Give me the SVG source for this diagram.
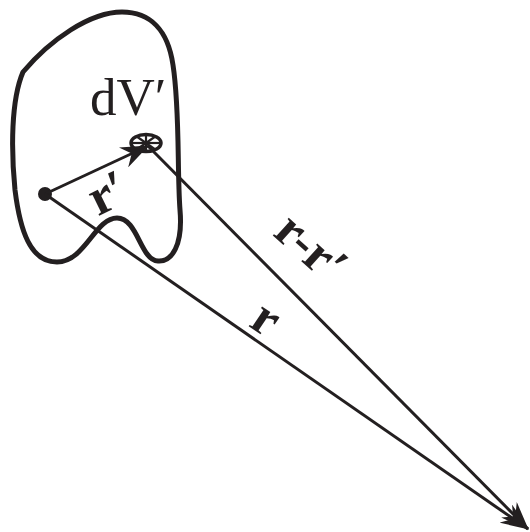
<svg xmlns="http://www.w3.org/2000/svg" width="530" height="532" viewBox="0 0 530 532">
<style>
.ln{stroke:#231f20;stroke-width:3;fill:none}
.lbl{font-family:"Liberation Serif","Times New Roman",serif;fill:#231f20}
.b{font-weight:bold}
</style>
<defs>
<marker id="ah" viewBox="0 0 28 22" refX="27" refY="11" markerWidth="28" markerHeight="22" markerUnits="userSpaceOnUse" orient="auto">
<path d="M0,0 L28,11 L0,22 L9,11 Z" fill="#231f20"/>
</marker>
</defs>
<rect width="530" height="532" fill="#fff"/>
<g id="region">
<path d="M23,72 C50,40 90,12 122,12 C150,12 168,30 173,65 C180,110 177,170 180,210 C183,245 172,262 158,261 C140,260 138,218 117,218 C95,218 85,262 57,262 C30,262 20,230 15,190 C11,150 11,100 23,72 Z" fill="none" stroke="#231f20" stroke-width="5" stroke-linejoin="round"/>
</g>
<g id="origin">
<circle cx="45" cy="194" r="7" fill="#231f20"/>
</g>
<g id="dV">
<ellipse cx="146" cy="143" rx="15" ry="8.5" fill="#fff" stroke="#231f20" stroke-width="3.5"/>
<g stroke="#231f20" stroke-width="2.2">
<line x1="131" y1="143" x2="161" y2="143"/>
<line x1="146" y1="134" x2="146" y2="152"/>
<line x1="136" y1="136" x2="156" y2="150"/>
<line x1="136" y1="150" x2="156" y2="136"/>
</g>
<text class="lbl" x="90" y="115" font-size="53">dV′</text>
</g>
<g id="connectors">
<line class="ln" x1="45" y1="194" x2="148" y2="146" marker-end="url(#ah)"/>
<line class="ln" x1="148" y1="146" x2="528" y2="529" marker-end="url(#ah)"/>
<line class="ln" x1="45" y1="194" x2="528" y2="529" marker-end="url(#ah)"/>
</g>
<g id="labels">
<text class="lbl b" font-size="52" text-anchor="middle" transform="translate(115,208) rotate(-26)">r′</text>
<text class="lbl b" font-size="52" text-anchor="middle" transform="translate(300,260) rotate(42)">r-r′</text>
<text class="lbl b" font-size="52" text-anchor="middle" transform="translate(257,332) rotate(34)">r</text>
</g>
</svg>
